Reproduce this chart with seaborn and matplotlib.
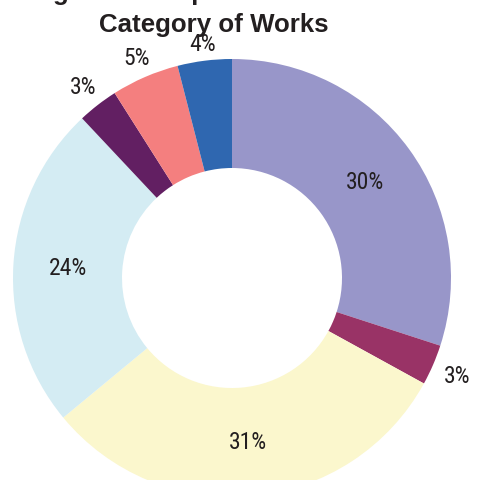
import matplotlib
matplotlib.use("Agg")
import matplotlib.pyplot as plt
from matplotlib import font_manager
import seaborn as sns
import numpy as np

# Share of works per category, clockwise from 12 o'clock
categories = ["Category A", "Category B", "Category C", "Category D",
              "Category E", "Category F", "Category G"]
shares = [30, 3, 31, 24, 3, 5, 4]
colors = ["#9896C9", "#993366", "#FBF7CD", "#D4ECF3", "#621F62", "#F47F7F", "#2F67B0"]
title_lines = ["Figure 1: Output Share for Each", "Category of Works"]

sns.set_theme(style="white")
plt.rcParams["font.family"] = ["Liberation Sans", "DejaVu Sans"]

# narrow face for the percentage labels, if one is available
installed = {f.name for f in font_manager.fontManager.ttflist}
narrow = [n for n in ["Liberation Sans Narrow", "Roboto Condensed", "DejaVu Sans Condensed",
                      "Open Sans Condensed", "Noto Sans Condensed"] if n in installed]
label_family = narrow[:1] + ["Liberation Sans", "DejaVu Sans"]

W, H = 478, 481
fig = plt.figure(figsize=(W / 100, H / 100), dpi=100)
ax = fig.add_axes([0, 0, 1, 1])

cx, cy = 232, 279          # ring centre, pixels from the left / top
R_out, ring = 219, 109

wedges, _ = ax.pie(shares, colors=colors, startangle=90, counterclock=False,
                   radius=R_out, center=(0, 0),
                   wedgeprops=dict(width=ring, linewidth=0))

# big slices get their label inside the ring, small ones just outside it
half_w, half_h, gap = 16, 5, 10
for w, v in zip(wedges, shares):
    mid = np.deg2rad((w.theta1 + w.theta2) / 2)
    c, s = np.cos(mid), np.sin(mid)
    if v >= 10:
        dist = R_out - ring / 2
    else:
        dist = R_out + gap + abs(c) * half_w + abs(s) * half_h
    ax.text(dist * c, dist * s, f"{v}%", ha="center", va="center",
            fontsize=17 if narrow else 14, color="#231F20", family=label_family)

ax.set_xlim(-cx, W - cx)
ax.set_ylim(-(H - cy), cy)
ax.set_aspect("auto")
ax.axis("off")

fig.text(226 / W, 1.0, title_lines[0], ha="center", va="baseline",
         fontsize=18.6, fontweight="bold", color="#231F20")
fig.text(214 / W, 1 - 31.7 / H, title_lines[1], ha="center", va="baseline",
         fontsize=18.6, fontweight="bold", color="#231F20")

fig.savefig("out.png", dpi=100)
